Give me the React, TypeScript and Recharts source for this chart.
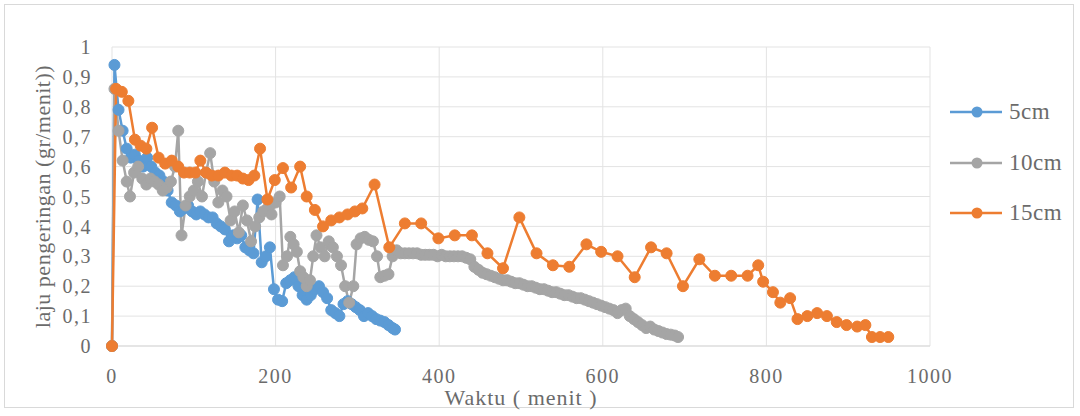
import React from 'react';
import { LineChart, Line, XAxis, YAxis, CartesianGrid } from 'recharts';

// drying rate (gr/menit) vs time (menit)
const seriesNames = ['5cm', '10cm', '15cm'];
const seriesColors = ['#5B9BD5', '#A5A5A5', '#ED7D31'];

const xTicks = [0, 200, 400, 600, 800, 1000];
const yTicks = [0, 0.1, 0.2, 0.3, 0.4, 0.5, 0.6, 0.7, 0.8, 0.9, 1];

const rate5cm: [number, number][] = [
  [0, 0], [3, 0.94], [8, 0.79], [13, 0.72], [18, 0.66], [23, 0.63], [28, 0.64], [33, 0.62], [38, 0.6],
  [43, 0.63], [48, 0.6], [53, 0.58], [58, 0.57], [63, 0.55], [68, 0.52], [73, 0.48], [78, 0.47],
  [83, 0.45], [88, 0.46], [93, 0.47], [98, 0.45], [103, 0.44], [108, 0.45], [113, 0.44], [118, 0.43],
  [123, 0.43], [128, 0.41], [133, 0.4], [138, 0.39], [143, 0.35], [148, 0.37], [153, 0.36], [158, 0.37],
  [163, 0.33], [168, 0.32], [173, 0.31], [178, 0.49], [183, 0.28], [188, 0.3], [193, 0.33], [198, 0.19],
  [203, 0.155], [208, 0.15], [213, 0.21], [218, 0.22], [223, 0.23], [228, 0.2], [233, 0.17], [238, 0.155],
  [243, 0.17], [248, 0.19], [253, 0.2], [258, 0.18], [263, 0.16], [268, 0.12], [273, 0.11], [278, 0.1],
  [283, 0.14], [288, 0.15], [293, 0.14], [298, 0.13], [303, 0.12], [308, 0.1], [313, 0.11], [318, 0.1],
  [323, 0.09], [328, 0.085], [333, 0.08], [338, 0.07], [343, 0.06], [346, 0.055],
];

const rate10cm: [number, number][] = [
  [0, 0], [3, 0.86], [8, 0.72], [13, 0.62], [18, 0.55], [22, 0.5], [27, 0.58], [32, 0.6], [37, 0.56],
  [42, 0.54], [47, 0.56], [52, 0.55], [57, 0.54], [62, 0.52], [67, 0.53], [72, 0.55], [77, 0.6],
  [81, 0.72], [85, 0.37], [90, 0.47], [95, 0.5], [100, 0.52], [105, 0.55], [110, 0.5], [115, 0.58],
  [120, 0.645], [125, 0.55], [130, 0.48], [135, 0.52], [140, 0.5], [145, 0.42], [150, 0.45], [155, 0.38],
  [160, 0.47], [165, 0.42], [170, 0.35], [175, 0.4], [180, 0.43], [185, 0.45], [190, 0.46], [195, 0.44],
  [200, 0.48], [205, 0.5], [209, 0.27], [214, 0.3], [218, 0.365], [222, 0.34], [226, 0.315], [230, 0.25],
  [234, 0.23], [238, 0.2], [242, 0.22], [246, 0.3], [250, 0.37], [255, 0.33], [260, 0.3], [265, 0.35],
  [270, 0.33], [275, 0.3], [280, 0.27], [285, 0.2], [290, 0.145], [295, 0.2], [299, 0.34], [304, 0.36],
  [309, 0.365], [314, 0.355], [319, 0.35], [324, 0.3], [328, 0.23], [333, 0.235], [338, 0.24], [343, 0.3],
  [348, 0.32], [353, 0.31], [358, 0.31], [363, 0.31], [368, 0.31], [373, 0.31], [378, 0.305], [383, 0.305],
  [388, 0.305], [393, 0.305], [398, 0.3], [403, 0.305], [408, 0.3], [413, 0.3], [418, 0.3], [423, 0.3],
  [428, 0.3], [433, 0.295], [438, 0.29], [443, 0.265], [448, 0.255], [453, 0.245], [458, 0.24], [463, 0.235],
  [468, 0.23], [473, 0.225], [478, 0.22], [483, 0.22], [488, 0.215], [493, 0.21], [498, 0.21], [503, 0.205],
  [508, 0.2], [513, 0.2], [518, 0.195], [523, 0.19], [528, 0.19], [533, 0.185], [538, 0.18], [543, 0.18],
  [548, 0.175], [553, 0.17], [558, 0.17], [563, 0.165], [568, 0.16], [573, 0.16], [578, 0.155], [583, 0.15],
  [588, 0.145], [593, 0.14], [598, 0.135], [603, 0.13], [608, 0.125], [613, 0.12], [618, 0.11], [623, 0.12],
  [628, 0.125], [633, 0.1], [638, 0.09], [643, 0.08], [648, 0.07], [653, 0.06], [658, 0.065], [663, 0.055],
  [668, 0.05], [673, 0.045], [678, 0.04], [683, 0.038], [688, 0.035], [692, 0.03],
];

const rate15cm: [number, number][] = [
  [0, 0], [5, 0.86], [12, 0.85], [20, 0.82], [28, 0.69], [35, 0.67], [42, 0.66], [49, 0.73], [57, 0.63],
  [65, 0.61], [73, 0.62], [81, 0.6], [88, 0.58], [95, 0.58], [102, 0.58], [108, 0.62], [115, 0.58],
  [122, 0.57], [130, 0.57], [138, 0.58], [146, 0.57], [153, 0.57], [160, 0.56], [167, 0.555], [174, 0.57],
  [181, 0.66], [190, 0.49], [199, 0.555], [209, 0.595], [219, 0.53], [230, 0.6], [238, 0.5], [248, 0.455],
  [258, 0.4], [268, 0.42], [278, 0.43], [288, 0.44], [297, 0.45], [306, 0.46], [321, 0.54], [339, 0.33],
  [358, 0.41], [378, 0.41], [399, 0.36], [419, 0.37], [440, 0.37], [459, 0.31], [478, 0.26], [498, 0.43],
  [519, 0.31], [539, 0.27], [559, 0.265], [580, 0.34], [598, 0.315], [618, 0.3], [639, 0.23], [659, 0.33],
  [678, 0.31], [698, 0.2], [718, 0.29], [737, 0.235], [757, 0.235], [777, 0.235], [790, 0.27], [796, 0.215],
  [808, 0.18], [817, 0.145], [829, 0.16], [838, 0.09], [850, 0.1], [862, 0.11], [874, 0.1], [886, 0.08],
  [898, 0.07], [911, 0.065], [921, 0.07], [929, 0.03], [939, 0.03], [949, 0.03],
];

const seriesData = [rate5cm, rate10cm, rate15cm].map(arr => arr.map(([t, v]) => ({ t, v })));

const FONT = "'Liberation Serif', 'Tinos', 'DejaVu Serif', serif";
const TEXT = '#6b6b6b';

const App: React.FC = () => {
  return (
    <div style={{ position: 'absolute', left: 0, top: 0, width: 1080, height: 416, background: '#fff', fontFamily: FONT }}>
      <div style={{ position: 'absolute', left: 4, top: 4, width: 1068, height: 402, border: '1px solid #d9d9d9' }} />
      <LineChart width={1080} height={416} margin={{ top: 47, right: 150, bottom: 10, left: 20 }} style={{ fontFamily: FONT }}>
        <CartesianGrid stroke="#e3e3e3" strokeWidth={1} />
        <XAxis
          type="number"
          dataKey="t"
          domain={[0, 1000]}
          ticks={xTicks}
          height={60}
          tickSize={0}
          tickMargin={23}
          axisLine={{ stroke: '#d9d9d9' }}
          tick={{ fill: TEXT, fontSize: 20, style: { fontFamily: FONT, letterSpacing: 1.5 } }}
          label={{ value: 'Waktu ( menit )', position: 'insideBottom', offset: 1, fill: TEXT, fontSize: 22, style: { fontFamily: FONT, letterSpacing: 1 } }}
        />
        <YAxis
          type="number"
          dataKey="v"
          domain={[0, 1]}
          ticks={yTicks}
          width={92}
          tickSize={0}
          tickMargin={20}
          axisLine={false}
          tickFormatter={(v: number) => String(v).replace('.', ',')}
          tick={{ fill: TEXT, fontSize: 20, style: { fontFamily: FONT, letterSpacing: 1.5 } }}
          label={{
            value: 'laju pengeringan  (gr/menit))',
            angle: -90,
            position: 'insideLeft',
            offset: 22,
            fill: TEXT,
            fontSize: 22,
            style: { textAnchor: 'middle', whiteSpace: 'pre', fontFamily: FONT, letterSpacing: 0.5 },
          }}
        />
        {seriesData.map((d, i) => (
          <Line
            key={seriesNames[i]}
            data={d}
            dataKey="v"
            name={seriesNames[i]}
            type="linear"
            stroke={seriesColors[i]}
            strokeWidth={2.5}
            dot={{ r: 5.5, fill: seriesColors[i], stroke: seriesColors[i], strokeWidth: 1 }}
            isAnimationActive={false}
          />
        ))}
      </LineChart>
      {seriesNames.map((name, i) => (
        <div key={name} style={{ position: 'absolute', left: 950, top: 97 + i * 50.5, height: 30, display: 'flex', alignItems: 'center' }}>
          <svg width={52} height={20}>
            <line x1={0} y1={10} x2={52} y2={10} stroke={seriesColors[i]} strokeWidth={2.5} />
            <circle cx={27} cy={10} r={5.5} fill={seriesColors[i]} />
          </svg>
          <span style={{ marginLeft: 7, fontSize: 23, letterSpacing: 0.5, color: TEXT, fontFamily: FONT }}>{name}</span>
        </div>
      ))}
    </div>
  );
};

export default App;
